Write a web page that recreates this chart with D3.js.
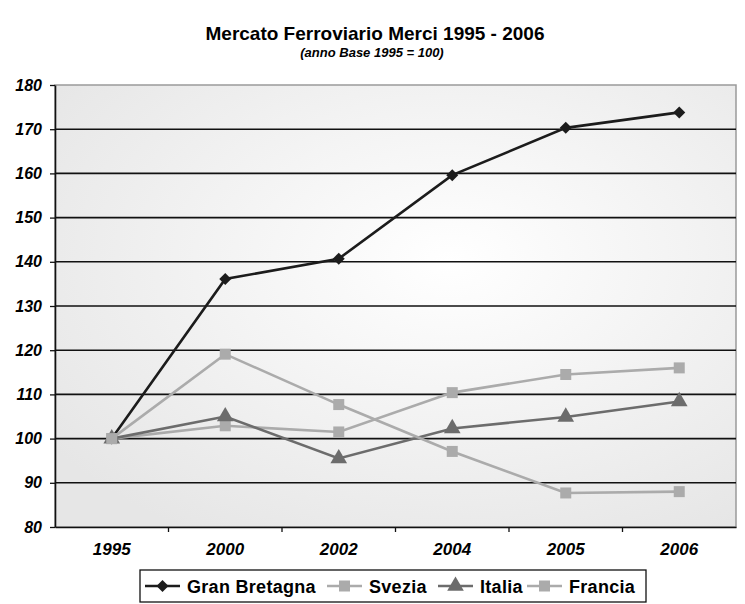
<!DOCTYPE html>
<html>
<meta charset="utf-8">
<style>
body { margin: 0; background: #fff; }
svg text { font-family: "Liberation Sans", Arial, sans-serif; }
.title { font-size: 19px; font-weight: bold; text-anchor: middle; }
.subtitle { font-size: 13px; font-weight: bold; font-style: italic; text-anchor: middle; }
.axis text { font-size: 16px; font-weight: bold; font-style: italic; fill: #000; }
.xaxis text { font-size: 17px; }
.legend text { font-size: 18px; font-weight: bold; letter-spacing: 0.3px; }
</style>
<body>
<script src="https://cdn.jsdelivr.net/npm/d3@7"></script>
<script>

var years = ["1995", "2000", "2002", "2004", "2005", "2006"];
var granBretagna = [100, 136.1, 140.7, 159.6, 170.3, 173.8];
var svezia = [100, 102.9, 101.5, 110.4, 114.5, 116.0];
var italia = [100, 105.0, 95.5, 102.3, 104.9, 108.4];
var francia = [100, 119.1, 107.7, 97.1, 87.7, 88.0];
var yTicks = [80, 90, 100, 110, 120, 130, 140, 150, 160, 170, 180];

var series = [
  {name: "Gran Bretagna", values: granBretagna, color: "#1c1c1c", marker: "diamond"},
  {name: "Svezia", values: svezia, color: "#ababab", marker: "square"},
  {name: "Italia", values: italia, color: "#6c6c6c", marker: "triangle"},
  {name: "Francia", values: francia, color: "#ababab", marker: "square"}
];

var W = 745, H = 604;
var pLeft = 55, pRight = 736, pTop = 85, pBottom = 527;

var svg = d3.select("body").append("svg")
    .attr("width", W)
    .attr("height", H);

var defs = svg.append("defs");
var grad = defs.append("radialGradient")
    .attr("id", "bg")
    .attr("cx", "0.58").attr("cy", "0.4").attr("r", "0.72");
grad.append("stop").attr("offset", "0%").attr("stop-color", "#ffffff");
grad.append("stop").attr("offset", "100%").attr("stop-color", "#e6e6e6");

var x = d3.scaleBand().domain(years).range([pLeft, pRight]).padding(0);
var y = d3.scaleLinear().domain([80, 180]).range([pBottom, pTop]);

// plot background
svg.append("rect")
    .attr("x", pLeft).attr("y", pTop)
    .attr("width", pRight - pLeft).attr("height", pBottom - pTop)
    .attr("fill", "url(#bg)")
    .attr("stroke", "#9a9a9a")
    .attr("stroke-width", 1.5);

// gridlines
svg.append("g").selectAll("line")
    .data(yTicks.filter(function(d) { return d > 80 && d < 180; }))
    .enter().append("line")
    .attr("x1", pLeft).attr("x2", pRight)
    .attr("y1", function(d) { return y(d); })
    .attr("y2", function(d) { return y(d); })
    .attr("stroke", "#111")
    .attr("stroke-width", 1.6);

// y axis
var yAxis = svg.append("g")
    .attr("class", "axis")
    .attr("transform", "translate(" + pLeft + ",0)")
    .call(d3.axisLeft(y).tickValues(yTicks).tickSize(5).tickPadding(8).tickSizeOuter(0));
yAxis.select(".domain").attr("stroke", "#111").attr("stroke-width", 1.6);
yAxis.selectAll(".tick line").attr("stroke", "#111").attr("stroke-width", 1.3);

// x axis: labels centred in bands, tick marks on band edges
var xAxis = svg.append("g")
    .attr("class", "axis xaxis")
    .attr("transform", "translate(0," + pBottom + ")")
    .call(d3.axisBottom(x).tickSize(0).tickPadding(16).tickSizeOuter(0));
xAxis.select(".domain").attr("stroke", "#111").attr("stroke-width", 1.6);

svg.append("g").selectAll("line")
    .data(years.slice(1))
    .enter().append("line")
    .attr("x1", function(d) { return x(d); })
    .attr("x2", function(d) { return x(d); })
    .attr("y1", pBottom).attr("y2", pBottom + 5)
    .attr("stroke", "#111").attr("stroke-width", 1.3);

// markers
var symbols = {
  diamond: d3.symbol().type(d3.symbolSquare).size(72),
  square: d3.symbol().type(d3.symbolSquare).size(121),
  triangle: d3.symbol().type(d3.symbolTriangle).size(120)
};

function drawMarker(g, s, cx, cy) {
  g.append("path")
      .attr("d", symbols[s.marker]())
      .attr("fill", s.color)
      .attr("transform", "translate(" + cx + "," + cy + ")" + (s.marker === "diamond" ? " rotate(45)" : ""));
}

var line = d3.line()
    .x(function(d, i) { return x(years[i]) + x.bandwidth() / 2; })
    .y(function(d) { return y(d); });

var plot = svg.append("g");
series.forEach(function(s) {
  var g = plot.append("g");
  g.append("path")
      .datum(s.values)
      .attr("fill", "none")
      .attr("stroke", s.color)
      .attr("stroke-width", 2.6)
      .attr("d", line);
  s.values.forEach(function(v, i) {
    drawMarker(g, s, x(years[i]) + x.bandwidth() / 2, y(v));
  });
});

// titles
svg.append("text").attr("class", "title")
    .attr("x", 375).attr("y", 40)
    .text("Mercato Ferroviario Merci 1995 - 2006");
svg.append("text").attr("class", "subtitle")
    .attr("x", 372).attr("y", 57)
    .text("(anno Base 1995 = 100)");

// legend
var legend = svg.append("g").attr("class", "legend");
legend.append("rect")
    .attr("x", 140).attr("y", 570)
    .attr("width", 506).attr("height", 32)
    .attr("fill", "#fff")
    .attr("stroke", "#111")
    .attr("stroke-width", 1.3);

var legendX = [145, 327, 438, 527];
series.forEach(function(s, i) {
  var g = legend.append("g");
  var lx = legendX[i];
  g.append("line")
      .attr("x1", lx).attr("x2", lx + 35)
      .attr("y1", 586).attr("y2", 586)
      .attr("stroke", s.color)
      .attr("stroke-width", 2.6);
  drawMarker(g, s, lx + 17.5, 586);
  g.append("text")
      .attr("x", lx + 42).attr("y", 593)
      .text(s.name);
});

</script>
</body>
</html>
